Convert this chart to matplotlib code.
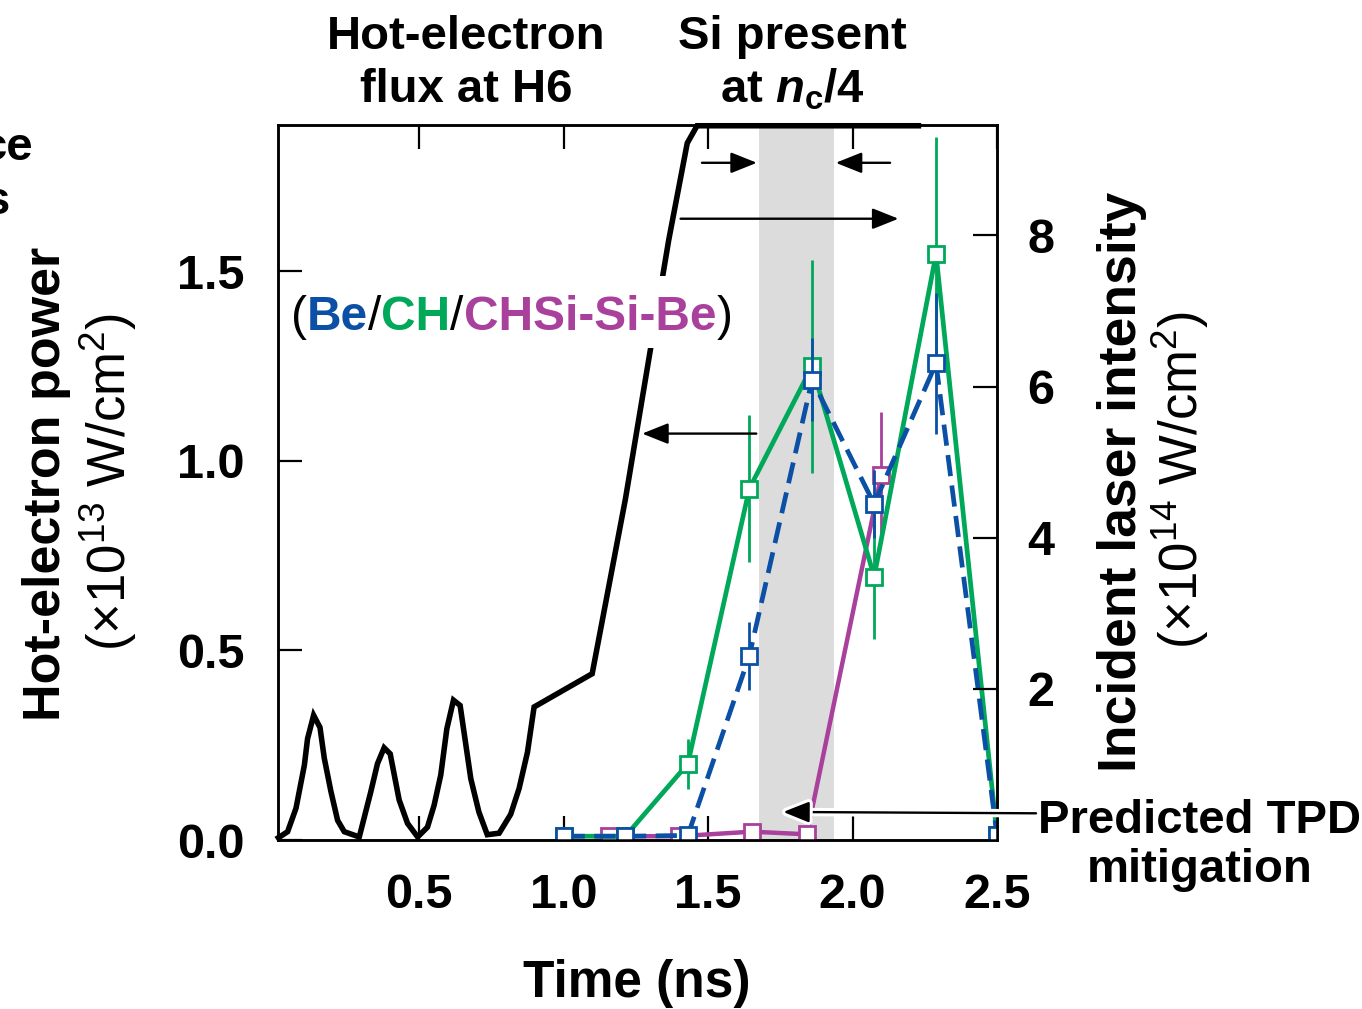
import matplotlib
matplotlib.use("Agg")
import matplotlib.pyplot as plt
import matplotlib.patheffects as pe
from matplotlib.patches import Rectangle

# ---------------- data ----------------
# Incident laser intensity (right axis, x10^14 W/cm^2)
laser_t = [0.013, 0.045, 0.074, 0.103, 0.114, 0.135, 0.157, 0.172, 0.195, 0.218, 0.241, 0.293,
           0.333, 0.356, 0.379, 0.400, 0.431, 0.460, 0.495, 0.529, 0.552, 0.575, 0.596, 0.619,
           0.642, 0.679, 0.707, 0.736, 0.777, 0.817, 0.846, 0.875, 0.898, 1.099, 1.214, 1.364,
           1.428, 1.462, 2.228]
laser_I = [0.03, 0.11, 0.42, 0.99, 1.34, 1.65, 1.49, 1.08, 0.64, 0.26, 0.11, 0.04,
           0.64, 1.01, 1.22, 1.14, 0.53, 0.22, 0.04, 0.17, 0.46, 0.86, 1.47, 1.85,
           1.78, 0.81, 0.37, 0.07, 0.09, 0.34, 0.68, 1.16, 1.76, 2.20, 4.51, 7.94,
           9.22, 9.45, 9.45]

# Hot-electron power (left axis, x10^13 W/cm^2)
be_t = [1.0, 1.214, 1.43, 1.643, 1.86, 2.075, 2.289, 2.5]
be_P = [0.01, 0.01, 0.012, 0.486, 1.214, 0.886, 1.257, 0.012]
be_err = [0, 0, 0, 0.09, 0.11, 0.09, 0.185, 0]

ch_t = [1.0, 1.214, 1.43, 1.643, 1.86, 2.075, 2.289, 2.5]
ch_P = [0.01, 0.01, 0.201, 0.927, 1.249, 0.695, 1.545, 0.012]
ch_err = [0, 0, 0.066, 0.193, 0.28, 0.165, 0.31, 0]

si_t = [1.157, 1.399, 1.652, 1.842, 2.10]
si_P = [0.01, 0.01, 0.022, 0.015, 0.964]
si_err = [0, 0, 0, 0, 0.164]

si_band = (1.678, 1.937)

x_ticks = [0.5, 1.0, 1.5, 2.0, 2.5]
x_labels = ["0.5", "1.0", "1.5", "2.0", "2.5"]
yl_ticks = [0.0, 0.5, 1.0, 1.5]
yl_labels = ["0.0", "0.5", "1.0", "1.5"]
yr_ticks = [2, 4, 6, 8]
yr_labels = ["2", "4", "6", "8"]

BLUE = "#0b50a5"
GREEN = "#00a85a"
MAGENTA = "#a8409c"

# ---------------- style ----------------
FONT = "Liberation Sans"
plt.rcParams["font.family"] = [FONT, "DejaVu Sans"]
plt.rcParams["mathtext.fontset"] = "custom"
plt.rcParams["mathtext.rm"] = FONT
plt.rcParams["mathtext.it"] = FONT + ":italic:bold"
plt.rcParams["mathtext.bf"] = FONT + ":bold"

W, H = 1362, 1009
fig = plt.figure(figsize=(W / 100, H / 100), dpi=100)

def fx(x):
    return x / W

def fy(y):
    return 1 - y / H

ax = fig.add_axes([fx(277.5), fy(840), fx(997) - fx(277.5), fy(125) - fy(840)])
ax2 = ax.twinx()

ax.set_xlim(0.01, 2.5)
ax.set_ylim(0, 1.886)
ax2.set_ylim(0, 9.46)

for a in (ax, ax2):
    for s in a.spines.values():
        s.set_linewidth(1.8)

ax.axvspan(si_band[0], si_band[1], color="#dcdcdc", lw=0, zorder=0)

# series
def series(t, P, err, color, ls, lw, z):
    ax.errorbar(t, P, yerr=err, fmt="none", ecolor=color, elinewidth=2.0, capsize=0, zorder=z)
    ax.plot(t, P, color=color, ls=ls, lw=lw, zorder=z + 0.1, marker="s", markersize=11,
            markerfacecolor="white", markeredgecolor=color, markeredgewidth=2)

series(si_t, si_P, si_err, MAGENTA, "-", 3.2, 3)
series(ch_t, ch_P, ch_err, GREEN, "-", 3.4, 4)
series(be_t, be_P, be_err, BLUE, (0, (4.5, 2.0)), 3.4, 5)

ax2.plot(laser_t, laser_I, color="black", lw=4.0, clip_on=False, solid_joinstyle="miter",
         zorder=2)

# ticks
ax.set_xticks(x_ticks)
ax.set_xticklabels(x_labels)
ax.set_yticks(yl_ticks)
ax.set_yticklabels(yl_labels)
ax2.set_yticks(yr_ticks)
ax2.set_yticklabels(yr_labels)
ax.tick_params(axis="x", which="both", direction="in", length=17, width=1.6, top=True,
               labelsize=35, pad=24)
ax.tick_params(axis="y", direction="in", length=17, width=1.6, labelsize=35, pad=24)
ax2.tick_params(axis="y", direction="in", length=17, width=1.6, labelsize=35, pad=22)
for lab in ax.get_xticklabels() + ax.get_yticklabels() + ax2.get_yticklabels():
    lab.set_fontweight("bold")

# arrows
ap = dict(arrowstyle="-|>,head_length=0.8,head_width=0.32", mutation_scale=20,
          color="black", lw=1.7, shrinkA=0, shrinkB=0)
ax2.annotate("", xy=(1.669, 8.96), xytext=(1.479, 8.96), arrowprops=ap)
ax2.annotate("", xy=(1.942, 8.96), xytext=(2.130, 8.96), arrowprops=ap)
ax2.annotate("", xy=(2.159, 8.22), xytext=(1.405, 8.22), arrowprops=ap)
ax.annotate("", xy=(1.272, 1.072), xytext=(1.667, 1.072), arrowprops=ap, zorder=6)
tpd = ax2.annotate("", xy=(1.76, 0.074 * 9.46 / 1.886), xytext=(1036, H - 813.3),
                   textcoords="figure pixels", arrowprops=ap, annotation_clip=False, zorder=7)
tpd.arrow_patch.set_path_effects([pe.Stroke(linewidth=6, foreground="white"), pe.Normal()])

# multicolour legend text; a white patch hides the black curve behind it
ax2.add_patch(Rectangle((fx(287), fy(348)), fx(736) - fx(287), fy(276) - fy(348),
                        transform=fig.transFigure, facecolor="white", edgecolor="none",
                        zorder=9, clip_on=False))
LS = 34.5
t0 = ax2.text(fx(291), fy(330), "(", transform=fig.transFigure, fontsize=LS,
              color="black", va="baseline", ha="left", zorder=10)
parts = [("Be", BLUE, "bold"), ("/", "black", "normal"), ("CH", GREEN, "bold"),
         ("/", "black", "normal"), ("CHSi-Si-Be", MAGENTA, "bold"), (")", "black", "normal")]
prev = t0
for txt, col, wt in parts:
    prev = ax2.annotate(txt, xy=(1, 0), xycoords=prev, xytext=(0, 0), textcoords="offset points",
                        fontsize=LS, color=col, fontweight=wt, va="bottom", ha="left",
                        zorder=10)

# figure texts
B = dict(fontweight="bold", ha="center", va="baseline")
fig.text(fx(466), fy(49), "Hot-electron", fontsize=34, **B)
fig.text(fx(466), fy(102), "flux at H6", fontsize=34, **B)
fig.text(fx(792), fy(49), "Si present", fontsize=34, **B)
fig.text(fx(792), fy(102), r"at $\mathit{n}_{\mathbf{c}}$/4", fontsize=34, **B)
fig.text(fx(1199), fy(833), "Predicted TPD", fontsize=34, **B)
fig.text(fx(1200), fy(882), "mitigation", fontsize=34, **B)
fig.text(fx(637), fy(997), "Time (ns)", fontsize=37, **B)

fig.text(fx(33), fy(160), "ce", fontsize=34, fontweight="bold", ha="right", va="baseline")
fig.text(fx(10), fy(214), "s", fontsize=34, fontweight="bold", ha="right", va="baseline")

fig.text(fx(47), fy(484), "Hot-electron power", fontsize=37.5, fontweight="bold",
         rotation=90, ha="center", va="center")
fig.text(fx(108), fy(482), r"(×10$^{13}$ W/cm$^{2}$)", fontsize=38,
         rotation=90, ha="center", va="center")
fig.text(fx(1122), fy(482), "Incident laser intensity", fontsize=38.5, fontweight="bold",
         rotation=90, ha="center", va="center")
fig.text(fx(1180), fy(480), r"(×10$^{14}$ W/cm$^{2}$)", fontsize=38,
         rotation=90, ha="center", va="center")

fig.savefig("out.png", dpi=100)
